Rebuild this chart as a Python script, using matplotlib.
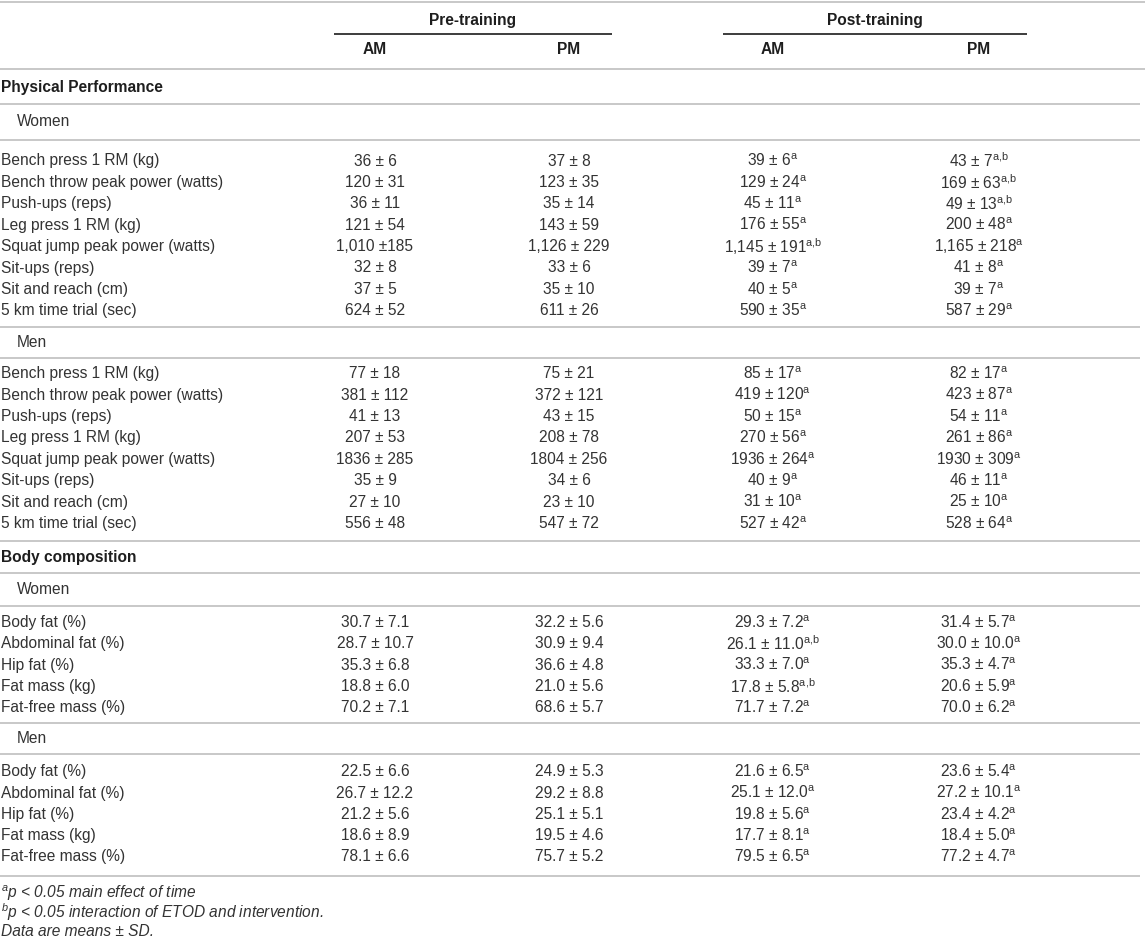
import matplotlib
matplotlib.use("Agg")
import matplotlib.pyplot as plt

plt.rcParams['font.family'] = ['Liberation Sans', 'DejaVu Sans']
plt.rcParams['mathtext.fontset'] = 'custom'
plt.rcParams['mathtext.rm'] = 'Liberation Sans'
plt.rcParams['mathtext.it'] = 'Liberation Sans:italic'
plt.rcParams['mathtext.bf'] = 'Liberation Sans:bold'

# ---- table content ----
periods = ["Pre-training", "Post-training"]
times = ["AM", "PM", "AM", "PM"]

perf_labels = ["Bench press 1 RM (kg)", "Bench throw peak power (watts)", "Push-ups (reps)",
               "Leg press 1 RM (kg)", "Squat jump peak power (watts)", "Sit-ups (reps)",
               "Sit and reach (cm)", "5 km time trial (sec)"]
comp_labels = ["Body fat (%)", "Abdominal fat (%)", "Hip fat (%)", "Fat mass (kg)",
               "Fat-free mass (%)"]

# physical performance, women
pw_pre_am = ["36 ± 6", "120 ± 31", "36 ± 11", "121 ± 54", "1,010 ±185", "32 ± 8", "37 ± 5", "624 ± 52"]
pw_pre_pm = ["37 ± 8", "123 ± 35", "35 ± 14", "143 ± 59", "1,126 ± 229", "33 ± 6", "35 ± 10", "611 ± 26"]
pw_post_am = ["39 ± 6", "129 ± 24", "45 ± 11", "176 ± 55", "1,145 ± 191", "39 ± 7", "40 ± 5", "590 ± 35"]
pw_post_am_sig = ["a", "a", "a", "a", "a,b", "a", "a", "a"]
pw_post_pm = ["43 ± 7", "169 ± 63", "49 ± 13", "200 ± 48", "1,165 ± 218", "41 ± 8", "39 ± 7", "587 ± 29"]
pw_post_pm_sig = ["a,b", "a,b", "a,b", "a", "a", "a", "a", "a"]

# physical performance, men
pm_pre_am = ["77 ± 18", "381 ± 112", "41 ± 13", "207 ± 53", "1836 ± 285", "35 ± 9", "27 ± 10", "556 ± 48"]
pm_pre_pm = ["75 ± 21", "372 ± 121", "43 ± 15", "208 ± 78", "1804 ± 256", "34 ± 6", "23 ± 10", "547 ± 72"]
pm_post_am = ["85 ± 17", "419 ± 120", "50 ± 15", "270 ± 56", "1936 ± 264", "40 ± 9", "31 ± 10", "527 ± 42"]
pm_post_am_sig = ["a"] * 8
pm_post_pm = ["82 ± 17", "423 ± 87", "54 ± 11", "261 ± 86", "1930 ± 309", "46 ± 11", "25 ± 10", "528 ± 64"]
pm_post_pm_sig = ["a"] * 8

# body composition, women
cw_pre_am = ["30.7 ± 7.1", "28.7 ± 10.7", "35.3 ± 6.8", "18.8 ± 6.0", "70.2 ± 7.1"]
cw_pre_pm = ["32.2 ± 5.6", "30.9 ± 9.4", "36.6 ± 4.8", "21.0 ± 5.6", "68.6 ± 5.7"]
cw_post_am = ["29.3 ± 7.2", "26.1 ± 11.0", "33.3 ± 7.0", "17.8 ± 5.8", "71.7 ± 7.2"]
cw_post_am_sig = ["a", "a,b", "a", "a,b", "a"]
cw_post_pm = ["31.4 ± 5.7", "30.0 ± 10.0", "35.3 ± 4.7", "20.6 ± 5.9", "70.0 ± 6.2"]
cw_post_pm_sig = ["a"] * 5

# body composition, men
cm_pre_am = ["22.5 ± 6.6", "26.7 ± 12.2", "21.2 ± 5.6", "18.6 ± 8.9", "78.1 ± 6.6"]
cm_pre_pm = ["24.9 ± 5.3", "29.2 ± 8.8", "25.1 ± 5.1", "19.5 ± 4.6", "75.7 ± 5.2"]
cm_post_am = ["21.6 ± 6.5", "25.1 ± 12.0", "19.8 ± 5.6", "17.7 ± 8.1", "79.5 ± 6.5"]
cm_post_am_sig = ["a"] * 5
cm_post_pm = ["23.6 ± 5.4", "27.2 ± 10.1", "23.4 ± 4.2", "18.4 ± 5.0", "77.2 ± 4.7"]
cm_post_pm_sig = ["a"] * 5

footnotes = [("a", "p < 0.05 main effect of time"),
             ("b", "p < 0.05 interaction of ETOD and intervention."),
             ("", "Data are means ± SD.")]

# ---- layout (pixel units) ----
W, H = 1145, 940
col_x = [375, 569, 773, 979]
span_x = [(334, 612), (723, 1027)]
fs = 11.2
txt = '#333333'
dark = '#1e1e1e'
rule = '#c8c8c8'

fig = plt.figure(figsize=(W / 100, H / 100), dpi=100)
ax = fig.add_axes([0, 0, 1, 1])
ax.set_xlim(0, W)
ax.set_ylim(H, 0)
ax.axis('off')


def hline(y, x1=0, x2=1140):
    ax.hlines(y, x1, x2, colors=rule, lw=1.4)


def cell(x, y, s, sig=""):
    if sig:
        s = s + r"$^{\mathrm{" + sig.replace(",", "{,}") + "}}$"
    ax.text(x, y, s, ha='center', va='center', fontsize=fs, color=txt)


# header
hline(1.5, 0, W)
for (x1, x2), name in zip(span_x, periods):
    ax.text((x1 + x2) / 2, 20, name, ha='center', va='center', fontsize=fs,
            fontweight='bold', color=dark)
    ax.hlines(34, x1, x2, colors='#3c3c3c', lw=1.4)
for x, t in zip(col_x, times):
    ax.text(x, 50, t, ha='center', va='center', fontsize=fs, fontweight='bold', color=dark)
hline(69, 0, W)

# (title height), per group: (group height, row top pad, row step, row bottom pad)
blocks = [
    ("Physical Performance", 35, [
        ("Women", (36, 21, 21.4, 16), perf_labels, pw_pre_am, pw_pre_pm, pw_post_am, pw_post_am_sig, pw_post_pm, pw_post_pm_sig),
        ("Men", (31, 16, 21.4, 17), perf_labels, pm_pre_am, pm_pre_pm, pm_post_am, pm_post_am_sig, pm_post_pm, pm_post_pm_sig),
    ]),
    ("Body composition", 32, [
        ("Women", (33, 17, 21.3, 15), comp_labels, cw_pre_am, cw_pre_pm, cw_post_am, cw_post_am_sig, cw_post_pm, cw_post_pm_sig),
        ("Men", (31, 18, 21.3, 19), comp_labels, cm_pre_am, cm_pre_pm, cm_post_am, cm_post_am_sig, cm_post_pm, cm_post_pm_sig),
    ]),
]

y = 69
for title, th, groups in blocks:
    ax.text(1, y + th / 2 + 1, title, ha='left', va='center', fontsize=fs, fontweight='bold', color=dark)
    y += th
    hline(y)
    for gname, (gh, pt, step, pb), labels, a1, p1, a2, s2, p2, t2 in groups:
        ax.text(17, y + gh / 2, gname, ha='left', va='center', fontsize=fs, color=txt)
        y += gh
        hline(y)
        y += pt
        for i, lab in enumerate(labels):
            ax.text(1, y, lab, ha='left', va='center', fontsize=fs, color=txt)
            cell(col_x[0], y, a1[i])
            cell(col_x[1], y, p1[i])
            cell(col_x[2], y, a2[i], s2[i])
            cell(col_x[3], y, p2[i], t2[i])
            if i < len(labels) - 1:
                y += step
        y += pb
        hline(y)

y += 17
for mark, note in footnotes:
    s = (r"$^{" + mark + "}$" if mark else "") + note
    ax.text(1, y, s, ha='left', va='center', fontsize=fs, style='italic', color=txt)
    y += 19.3

fig.savefig("out.png", dpi=100)
